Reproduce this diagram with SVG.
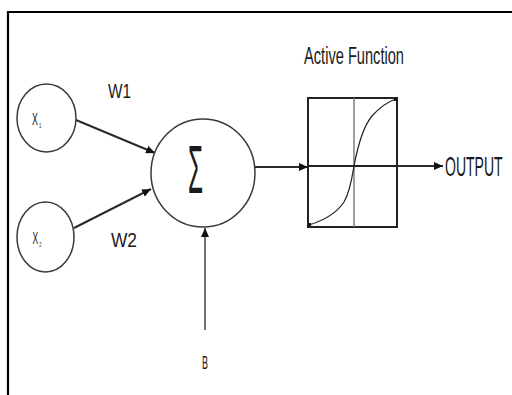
<svg xmlns="http://www.w3.org/2000/svg" width="512" height="395" viewBox="0 0 512 395">
<style>
.lbl{font-family:"Liberation Sans",Arial,sans-serif;fill:#1a1a1a}
.node{fill:#fff;stroke:#3a3a3a;stroke-width:1.5}
.conn{fill:none;stroke:#2a2a2a;stroke-width:2}
.thin{fill:none;stroke:#111;stroke-width:1.2}
</style>
<defs>
<marker id="ah" markerUnits="userSpaceOnUse" markerWidth="10" markerHeight="8" refX="9" refY="4" orient="auto">
<path d="M0,0 L9,4 L0,8 Z" fill="#111"/>
</marker>
</defs>
<rect width="512" height="395" fill="#fff"/>
<g id="frame">
<path d="M8,395 V12 H512" fill="none" stroke="#000" stroke-width="2.2"/>
</g>
<g id="connectors">
<line class="conn" x1="76" y1="120" x2="155" y2="153" marker-end="url(#ah)"/>
<line class="conn" x1="74" y1="228" x2="151" y2="189" marker-end="url(#ah)"/>
<line class="thin" x1="205" y1="330" x2="205" y2="228" marker-end="url(#ah)"/>
<line class="conn" x1="255" y1="167" x2="308" y2="167" marker-end="url(#ah)"/>
<line class="conn" x1="397" y1="166" x2="443" y2="166" marker-end="url(#ah)"/>
</g>
<g id="x1">
<ellipse class="node" cx="46.5" cy="118" rx="29.5" ry="34"/>
<text class="lbl" transform="translate(32,125) scale(0.52,1)" font-size="17">X<tspan font-size="8" dx="2" dy="3">1</tspan></text>
</g>
<g id="x2">
<ellipse class="node" cx="45.5" cy="237" rx="28.5" ry="35"/>
<text class="lbl" transform="translate(32.5,244) scale(0.5,1)" font-size="17">X<tspan font-size="8" dx="2" dy="3">2</tspan></text>
</g>
<g id="w-labels">
<text class="lbl" x="108" y="98" font-size="20" textLength="23" lengthAdjust="spacingAndGlyphs">W1</text>
<text class="lbl" x="111" y="247" font-size="20" textLength="26" lengthAdjust="spacingAndGlyphs">W2</text>
</g>
<g id="sum">
<ellipse class="node" cx="203" cy="173" rx="52" ry="54"/>
<text class="lbl" x="188" y="193" font-size="68" textLength="15" lengthAdjust="spacingAndGlyphs">Σ</text>
</g>
<g id="bias">
<text class="lbl" x="202" y="369" font-size="18" textLength="6" lengthAdjust="spacingAndGlyphs">B</text>
</g>
<g id="activation">
<text class="lbl" x="304" y="64" font-size="23" textLength="100" lengthAdjust="spacingAndGlyphs">Active Function</text>
<rect x="308" y="98" width="89" height="129" fill="#fff" stroke="#222" stroke-width="2"/>
<line x1="354" y1="98" x2="354" y2="227" stroke="#777" stroke-width="1.4"/>
<line x1="308" y1="166" x2="397" y2="166" stroke="#222" stroke-width="2"/>
<path d="M309,225 C322,221 336,214 344,202 C350,192 352,178 354,166 C357,150 362,128 372,116 C381,106 390,101 396,99" fill="none" stroke="#222" stroke-width="1.2"/>
<rect x="308" y="223" width="3" height="3" fill="#111"/>
<rect x="394" y="98" width="3" height="3" fill="#111"/>
</g>
<g id="output">
<text class="lbl" transform="translate(445,176) scale(0.52,1)" font-size="27">OUTPUT</text>
</g>
</svg>
